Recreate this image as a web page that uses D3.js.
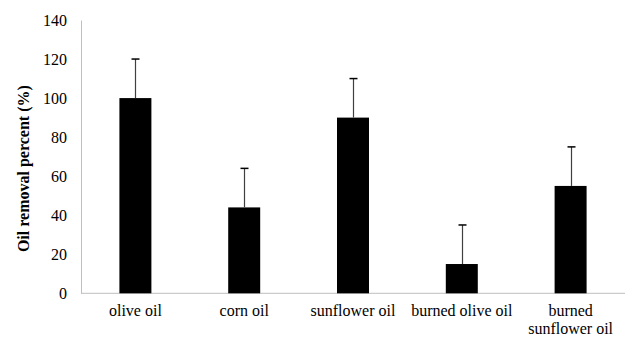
<!DOCTYPE html>
<html><head><meta charset="utf-8">
<script src="https://cdn.jsdelivr.net/npm/d3@7"></script>
<style>body{margin:0;background:#fff}svg{display:block}text{font-family:"Liberation Serif","Times New Roman",serif}</style>
</head><body>
<svg id="c" width="635" height="338"></svg>
<script>
const categories = [["olive oil"], ["corn oil"], ["sunflower oil"], ["burned olive oil"], ["burned", "sunflower oil"]];
const values = [100, 44, 90, 15, 55];
const errors = [20, 20, 20, 20, 20];
const yTicks = [0, 20, 40, 60, 80, 100, 120, 140];

const svg = d3.select("#c");
const m = {l: 81, r: 625, t: 20, b: 293.3};
const x = d3.scaleBand().domain(d3.range(categories.length)).range([m.l, m.r]).paddingInner(0.706).paddingOuter(0.353);
const y = d3.scaleLinear().domain([0, 140]).range([m.b, m.t]);

// y axis
const ya = svg.append("g").attr("transform", `translate(${m.l},0)`).call(d3.axisLeft(y).tickValues(yTicks).tickSize(0).tickPadding(14));
ya.select(".domain").attr("stroke", "#bfbfbf");
ya.selectAll("text").attr("font-size", 16).attr("font-family", "Liberation Serif").attr("fill", "#000");

// x axis line
svg.append("line").attr("x1", m.l).attr("x2", m.r).attr("y1", y(0)).attr("y2", y(0)).attr("stroke", "#bfbfbf");

// bars
svg.selectAll("rect.bar").data(values).join("rect").attr("class", "bar")
  .attr("x", (d, i) => x(i)).attr("width", x.bandwidth())
  .attr("y", d => y(d)).attr("height", d => y(0) - y(d)).attr("fill", "#000");

// error bars
const eg = svg.append("g").attr("stroke", "#404040").attr("stroke-width", 1.2);
values.forEach((v, i) => {
  const cx = Math.round(x(i) + x.bandwidth() / 2) + 0.5;
  eg.append("line").attr("x1", cx).attr("x2", cx).attr("y1", y(v)).attr("y2", y(v + errors[i]));
  eg.append("line").attr("x1", cx - 4).attr("x2", cx + 4).attr("y1", y(v + errors[i])).attr("y2", y(v + errors[i])).attr("stroke", "#000").attr("stroke-width", 1.5);
});

// category labels
categories.forEach((lines, i) => {
  const cx = x(i) + x.bandwidth() / 2;
  const t = svg.append("text").attr("text-anchor", "middle").attr("font-size", 16).attr("fill", "#000");
  lines.forEach((s, j) => t.append("tspan").attr("x", cx).attr("y", 316 + j * 18).text(s));
});

// axis title
svg.append("text").attr("transform", `translate(29,${(m.t + m.b) / 2 + 12}) rotate(-90)`)
  .attr("text-anchor", "middle").attr("font-size", 16).attr("font-weight", "bold").text("Oil removal percent (%)");
</script>
</body></html>
